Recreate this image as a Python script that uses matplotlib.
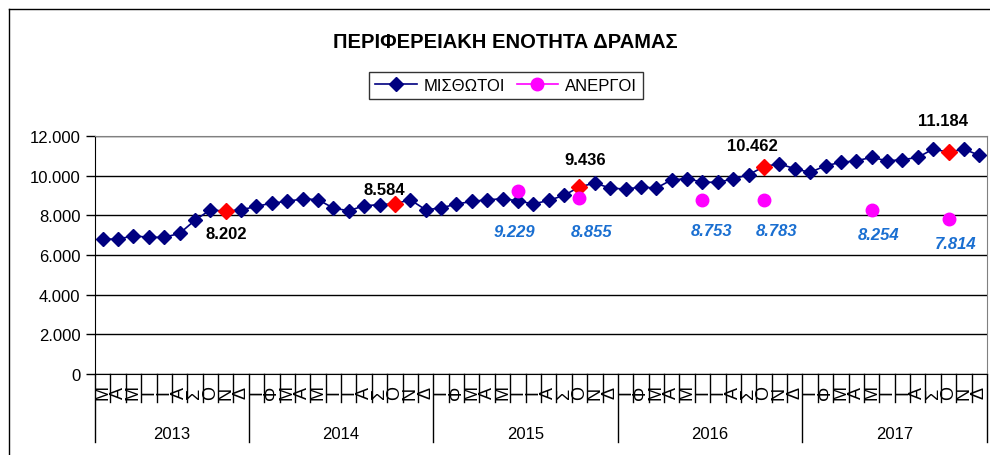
#!/usr/bin/env python3

import numpy as np
import matplotlib
matplotlib.use('Agg')
import matplotlib.pyplot as plt
from matplotlib.lines import Line2D

plt.rcParams['font.family'] = ['Liberation Sans', 'DejaVu Sans']

# data
years = ['2013', '2014', '2015', '2016', '2017']
months_2013 = ['Μ', 'Α', 'Μ', 'Ι', 'Ι', 'Α', 'Σ', 'Ο', 'Ν', 'Δ']
months_full = ['Ι', 'Φ', 'Μ', 'Α', 'Μ', 'Ι', 'Ι', 'Α', 'Σ', 'Ο', 'Ν', 'Δ']

misthotoi = [6800, 6800, 6970, 6890, 6890, 7090, 7750, 8280, 8202, 8280,
             8450, 8620, 8700, 8835, 8790, 8365, 8230, 8485, 8535, 8584,
             8785, 8280, 8370, 8570, 8700, 8785, 8835, 8735, 8570, 8754,
             9006, 9436, 9627, 9375, 9324, 9425, 9375, 9793, 9844, 9677,
             9660, 9844, 10045, 10462, 10600, 10348, 10166, 10500, 10670, 10751,
             10923, 10751, 10802, 10923, 11341, 11184, 11341, 11023]
highlight_idx = [8, 19, 31, 43, 55]          # red points, labelled in black
anergoi_idx = [27, 31, 39, 43, 50, 55]
anergoi = [9229, 8855, 8753, 8783, 8254, 7814]

# label offsets in pixels (dx, dy; y up)
hl_off = [(1, -22), (-11, 14), (6, 27), (-12, 21), (-6, 32)]
an_off = [(-4, -41), (12, -33), (9, -30), (13, -31), (7, -24), (7, -24)]

labels = months_2013 + months_full * 4
year_len = [len(months_2013)] + [len(months_full)] * 4
x = np.arange(len(misthotoi))

W, H = 990, 456
fig = plt.figure(figsize=(W / 100, H / 100), dpi=100)
L, R, T, B = 95, 987, 137, 375
ax = fig.add_axes([L / W, 1 - B / H, (R - L) / W, (B - T) / H])

ax.set_xlim(-0.5, len(x) - 0.5)
ax.set_ylim(0, 12000)
ax.set_yticks(np.arange(0, 12001, 2000))
ax.set_yticklabels(['0' if v == 0 else f'{v // 1000}.{v % 1000:03d}' for v in range(0, 12001, 2000)],
                   fontsize=12)
ax.yaxis.grid(True, color='black', linewidth=1)
ax.set_axisbelow(True)
ax.tick_params(axis='y', length=6.5, width=1, color='black', pad=4)
ax.set_xticks([])
for s in ['top', 'right']:
    ax.spines[s].set_color('#808080')
for s in ['left', 'bottom']:
    ax.spines[s].set_color('black')

ax.plot(x, misthotoi, color='#000080', linewidth=1.2, marker='D', markersize=7,
        markerfacecolor='#000080', markeredgecolor='#000080', zorder=3)
ax.plot(x[highlight_idx], [misthotoi[i] for i in highlight_idx], linestyle='none',
        marker='D', markersize=8, color='#ff0000', zorder=4)
ax.plot(anergoi_idx, anergoi, linestyle='none', marker='o', markersize=9,
        color='#ff00ff', zorder=4)

for i, (dx, dy) in zip(highlight_idx, hl_off):
    v = misthotoi[i]
    ax.annotate(f'{v // 1000}.{v % 1000:03d}', (i, v), xytext=(dx, dy),
                textcoords='offset pixels', ha='center', va='center',
                fontsize=12, fontweight='bold', color='black', zorder=5)
for i, v, (dx, dy) in zip(anergoi_idx, anergoi, an_off):
    ax.annotate(f'{v // 1000}.{v % 1000:03d}', (i, v), xytext=(dx, dy),
                textcoords='offset pixels', ha='center', va='center',
                fontsize=12, fontweight='bold', fontstyle='italic',
                color='#1a6fd1', zorder=5)

# multi level category axis
ah = B - T
trans = ax.get_xaxis_transform()
for i, lab in enumerate(labels):
    ax.text(i, -18 / ah, lab, transform=trans, rotation=90, ha='center',
            va='center', fontsize=13)
bounds = np.concatenate([[0], np.cumsum(year_len)]) - 0.5
for k in range(1, len(x)):
    xb = k - 0.5
    if xb in bounds:
        continue
    ax.plot([xb, xb], [0, -28 / ah], transform=trans, color='black',
            linewidth=1, clip_on=False)
for xb in bounds:
    ax.plot([xb, xb], [0, -68 / ah], transform=trans, color='black',
            linewidth=1, clip_on=False)
for j, yr in enumerate(years):
    ax.text((bounds[j] + bounds[j + 1]) / 2, -60 / ah, yr, transform=trans,
            ha='center', va='center', fontsize=12)

fig.text(505 / W, 1 - 42 / H, 'ΠΕΡΙΦΕΡΕΙΑΚΗ ΕΝΟΤΗΤΑ ΔΡΑΜΑΣ', ha='center',
         va='center', fontsize=14.5, fontweight='bold')

handles = [Line2D([], [], color='#000080', marker='D', markersize=7, linewidth=1.2),
           Line2D([], [], color='#ff00ff', marker='o', markersize=9, linewidth=1.2)]
leg = fig.legend(handles, ['ΜΙΣΘΩΤΟΙ', 'ΑΝΕΡΓΟΙ'], loc='center',
                 bbox_to_anchor=(506 / W, 1 - 86.5 / H), ncol=2, fontsize=12,
                 frameon=True, fancybox=False, edgecolor='black',
                 handlelength=2.5, columnspacing=0.7, handletextpad=0.4,
                 borderpad=0.35, borderaxespad=0)
leg.get_frame().set_linewidth(1)

# outer chart border
fig.add_artist(Line2D([9 / W, 9 / W], [0, 1 - 10 / H], color='black', linewidth=1))
fig.add_artist(Line2D([9 / W, 1], [1 - 10 / H, 1 - 10 / H], color='black', linewidth=1))

fig.savefig('out.png', dpi=100)
